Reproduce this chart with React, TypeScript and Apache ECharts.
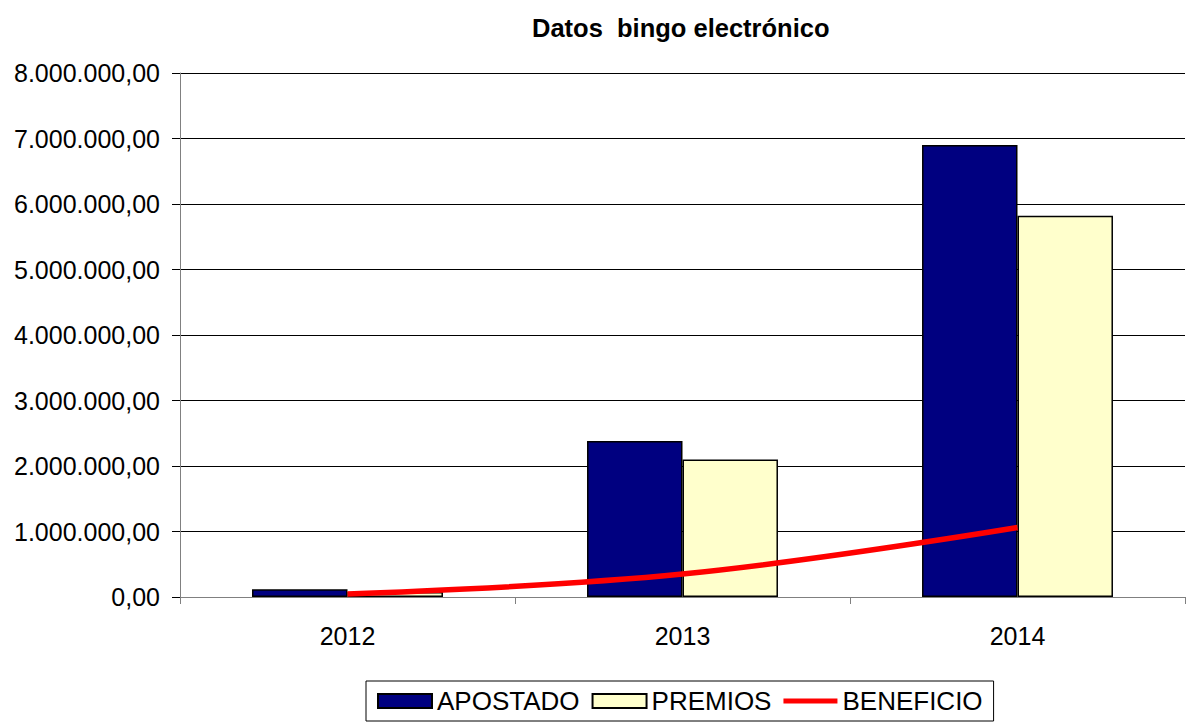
import React, { useEffect, useRef } from "react";
import * as echarts from "echarts";

const categories = ["2012", "2013", "2014"];
const apostado = [120000, 2380000, 6900000];
const premios = [75000, 2100000, 5820000];
const beneficio = [45000, 350000, 1060000];
const titleText = "Datos  bingo electrónico";

function fmt(v: number): string {
  const int = Math.round(Math.abs(v));
  const s = String(int).replace(/\B(?=(\d{3})+(?!\d))/g, ".");
  return (v < 0 ? "-" : "") + s + ",00";
}

export default function App() {
  const ref = useRef<HTMLDivElement>(null);
  useEffect(() => {
    document.body.style.margin = "0";
    const chart = echarts.init(ref.current!, null, { renderer: "svg" });
    const font = "Liberation Sans, Arial, sans-serif";
    chart.setOption({
      animation: false,
      backgroundColor: "#ffffff",
      title: {
        text: titleText,
        left: 527,
        top: 10,
        textStyle: { fontFamily: font, fontSize: 25.5, fontWeight: "bold", color: "#000" },
      },
      grid: { left: 180, right: 1, top: 73, bottom: 125, containLabel: false },
      legend: {
        left: 366,
        top: 681,
        padding: [7, 11, 7, 11],
        borderColor: "#000",
        borderWidth: 1,
        itemWidth: 54,
        itemHeight: 14,
        itemGap: 12,
        textStyle: { fontFamily: font, fontSize: 26, color: "#000" },
        data: [
          { name: "APOSTADO", icon: "rect" },
          { name: "PREMIOS", icon: "rect" },
          {
            name: "BENEFICIO",
            icon: "path://M0,0H54V0.01H0Z M0,4.5H54V9.5H0Z M0,13.99H54V14H0Z",
            itemStyle: { color: "#FF0000", borderWidth: 0 },
            lineStyle: { color: "#FF0000", width: 5 },
          },
        ],
      },
      xAxis: {
        type: "category",
        data: categories,
        axisLine: { show: true, lineStyle: { color: "#808080", width: 1 } },
        axisTick: { show: true, length: 7, lineStyle: { color: "#808080" } },
        axisLabel: { fontFamily: font, fontSize: 25, color: "#000", margin: 26 },
      },
      yAxis: {
        type: "value",
        min: 0,
        max: 8000000,
        interval: 1000000,
        axisLine: { show: true, lineStyle: { color: "#808080", width: 1 } },
        axisTick: { show: true, length: 8, lineStyle: { color: "#000" } },
        axisLabel: {
          fontFamily: font,
          fontSize: 25,
          color: "#000",
          margin: 20,
          formatter: (v: number) => fmt(v),
        },
        splitLine: { show: true, lineStyle: { color: "#000", width: 1 } },
      },
      series: [
        {
          name: "APOSTADO",
          type: "bar",
          data: apostado,
          barGap: "0%",
          barCategoryGap: "43%",
          itemStyle: { color: "#000080", borderColor: "#000", borderWidth: 1.5 },
        },
        {
          name: "PREMIOS",
          type: "bar",
          data: premios,
          itemStyle: { color: "#FFFFCC", borderColor: "#000", borderWidth: 1.5 },
        },
        {
          name: "BENEFICIO",
          type: "line",
          data: beneficio,
          smooth: 0.4,
          symbol: "none",
          z: 5,
          lineStyle: { color: "#FF0000", width: 5.5 },
          itemStyle: { color: "#FF0000" },
        },
      ],
    });
    return () => chart.dispose();
  }, []);
  return <div ref={ref} style={{ width: 1186, height: 722 }} />;
}
